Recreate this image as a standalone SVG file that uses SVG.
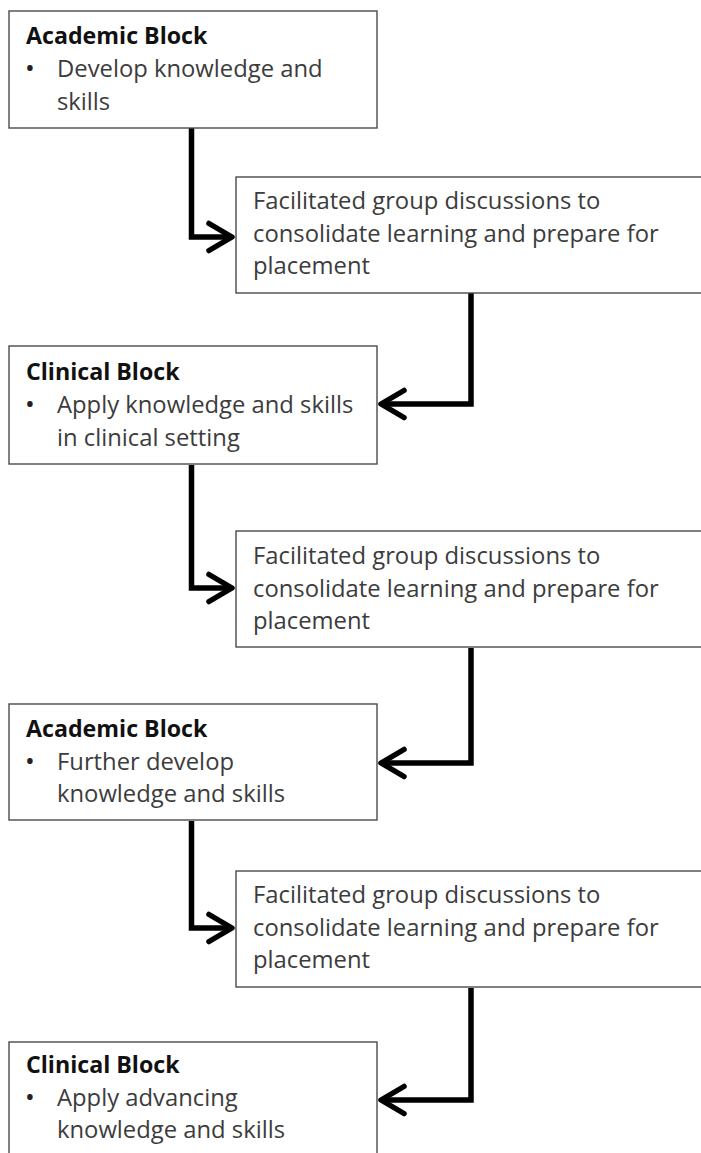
<svg xmlns="http://www.w3.org/2000/svg" width="701" height="1153" viewBox="0 0 701 1153">
  <style>
    .box { fill: #ffffff; stroke: #4a4a4a; stroke-width: 1.4; }
    .head { font-family: "Open Sans", "Noto Sans", sans-serif; font-size: 23.2px; font-weight: bold; fill: #111111; }
    .body { font-family: "Open Sans", "Noto Sans", sans-serif; font-size: 23.8px; fill: #3c3c3c; }
    .dot { font-family: "Open Sans", "Noto Sans", sans-serif; font-size: 26px; fill: #222222; }
    .conn { fill: none; stroke: #000000; stroke-width: 5.5; stroke-linejoin: miter; marker-end: url(#chevron); }
  </style>
  <defs>
    <marker id="chevron" markerUnits="userSpaceOnUse" viewBox="-32 -20 40 40" markerWidth="40" markerHeight="40" refX="0" refY="0" orient="auto">
      <path d="M -23 -13.5 L 0 0 L -23 13.5" fill="none" stroke="#000000" stroke-width="5.5" stroke-linecap="round" stroke-linejoin="round"/>
    </marker>
  </defs>

  <!-- connectors -->
  <g id="connectors">
    <path class="conn" d="M 191.5 128 V 237 H 232"/>
    <path class="conn" d="M 471 293 V 404 H 381"/>
    <path class="conn" d="M 191.5 465 V 588 H 232"/>
    <path class="conn" d="M 471 648 V 763 H 381"/>
    <path class="conn" d="M 191.5 821 V 928 H 232"/>
    <path class="conn" d="M 471 988 V 1100 H 381"/>
  </g>

  <g id="academic-block-1">
    <rect class="box" x="9" y="11" width="368" height="117"/>
    <text class="head" x="26" y="44">Academic Block</text>
    <text class="dot" x="25" y="77">•</text>
    <text class="body" x="57" y="77">Develop knowledge and</text>
    <text class="body" x="57" y="110">skills</text>
  </g>

  <g id="discussion-1">
    <rect class="box" x="236" y="177" width="470" height="116"/>
    <text class="body" x="253" y="209">Facilitated group discussions to</text>
    <text class="body" x="253" y="241.5">consolidate learning and prepare for</text>
    <text class="body" x="253" y="274">placement</text>
  </g>

  <g id="clinical-block-1">
    <rect class="box" x="9" y="346" width="368" height="118"/>
    <text class="head" x="26" y="380">Clinical Block</text>
    <text class="dot" x="25" y="413">•</text>
    <text class="body" x="57" y="413">Apply knowledge and skills</text>
    <text class="body" x="57" y="446">in clinical setting</text>
  </g>

  <g id="discussion-2">
    <rect class="box" x="236" y="531" width="470" height="116"/>
    <text class="body" x="253" y="564">Facilitated group discussions to</text>
    <text class="body" x="253" y="596.5">consolidate learning and prepare for</text>
    <text class="body" x="253" y="629">placement</text>
  </g>

  <g id="academic-block-2">
    <rect class="box" x="9" y="704" width="368" height="116"/>
    <text class="head" x="26" y="737">Academic Block</text>
    <text class="dot" x="25" y="770">•</text>
    <text class="body" x="57" y="770">Further develop</text>
    <text class="body" x="57" y="802">knowledge and skills</text>
  </g>

  <g id="discussion-3">
    <rect class="box" x="236" y="871" width="470" height="116"/>
    <text class="body" x="253" y="903">Facilitated group discussions to</text>
    <text class="body" x="253" y="935.5">consolidate learning and prepare for</text>
    <text class="body" x="253" y="968">placement</text>
  </g>

  <g id="clinical-block-2">
    <rect class="box" x="9" y="1042" width="368" height="130"/>
    <text class="head" x="26" y="1073">Clinical Block</text>
    <text class="dot" x="25" y="1106">•</text>
    <text class="body" x="57" y="1106">Apply advancing</text>
    <text class="body" x="57" y="1138">knowledge and skills</text>
  </g>
</svg>
